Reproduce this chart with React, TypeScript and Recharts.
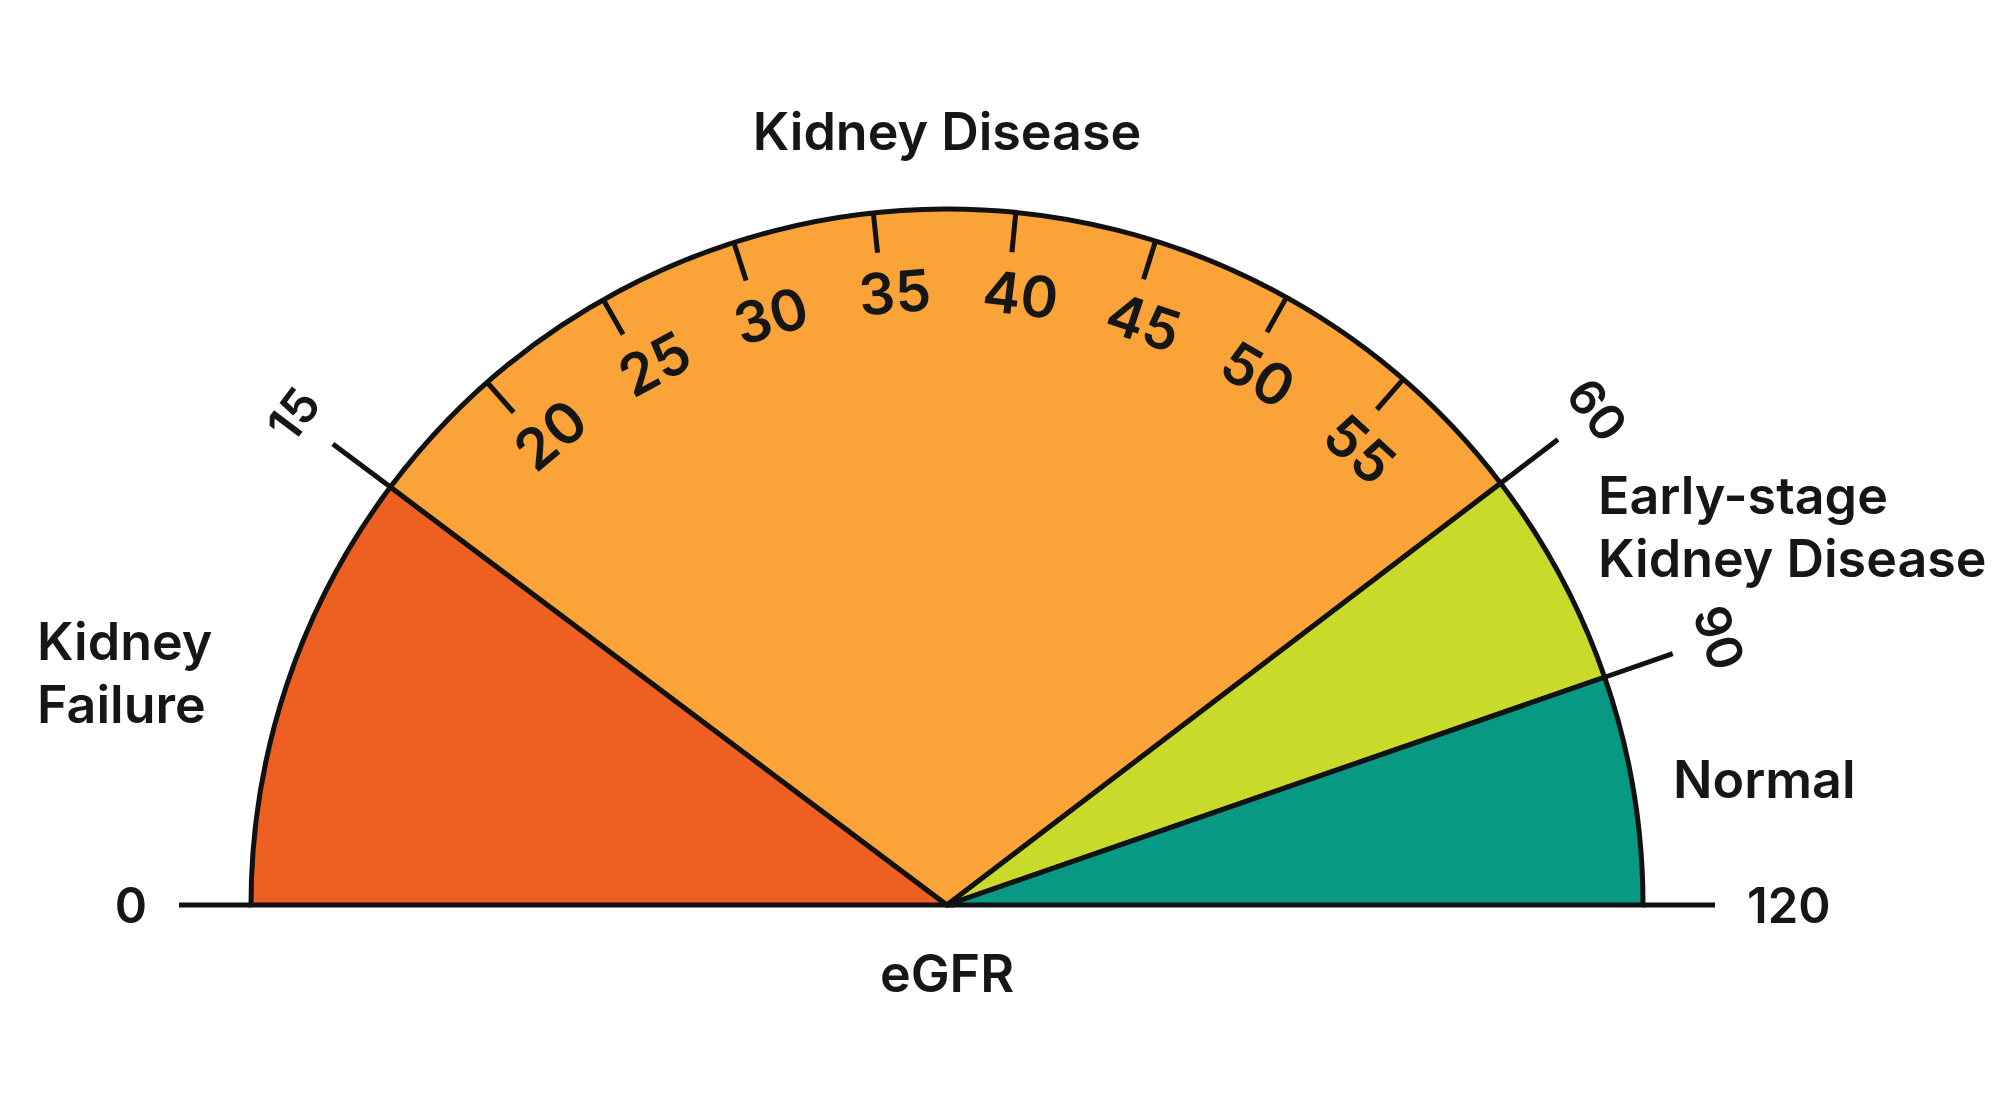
import { PieChart, Pie, Cell } from "recharts";

// eGFR stages of the dial
const stages = ["Kidney Failure", "Kidney Disease", "Early-stage Kidney Disease", "Normal"];
const stageBounds = [0, 15, 60, 90, 120];
// how much of the half dial each stage takes in the drawing (degrees, not to scale)
const stageArc = [36.9, 105.8, 18.2, 19.1];
const stageColors = ["#EE5F22", "#F9A338", "#C9DA2A", "#079983"];
// minor ticks inside the Kidney Disease band
const diseaseTicks = [20, 25, 30, 35, 40, 45, 50, 55];

const stageData = stages.map((name, i) => ({
  name,
  from: stageBounds[i],
  to: stageBounds[i + 1],
  value: stageArc[i],
}));

const tickEdges = [stageBounds[1], ...diseaseTicks, stageBounds[2]];
const tickData = tickEdges.slice(1).map((to, i) => ({
  from: tickEdges[i],
  to,
  value: to - tickEdges[i],
}));

const CX = 947;
const CY = 905;
const R = 696;
const FONT = "Inter, 'Noto Sans', sans-serif";
const INK = "#161616";
const RAD = Math.PI / 180;

const polar = (cx: number, cy: number, r: number, a: number) => ({
  x: cx + r * Math.cos(-a * RAD),
  y: cy + r * Math.sin(-a * RAD),
});

// where the stage names sit, relative to the dial centre
const nameLayout = [
  { x: -910, y: -245, anchor: "start", lines: ["Kidney", "Failure"] },
  { x: 0, y: -755, anchor: "middle", lines: ["Kidney Disease"] },
  { x: 651, y: -391, anchor: "start", lines: ["Early-stage", "Kidney Disease"] },
  { x: 726, y: -107, anchor: "start", lines: ["Normal"] },
];

function boundary(cx: number, cy: number, r: number, angle: number, value: number, flat: number, key: string) {
  const p1 = polar(cx, cy, r, angle);
  const p2 = polar(cx, cy, r + 72, angle);
  let text;
  if (flat) {
    const p = polar(cx, cy, r + 104, angle);
    text = (
      <text x={p.x} y={p.y} textAnchor={flat < 0 ? "end" : "start"} dominantBaseline="central"
        fontSize={49} fontFamily={FONT} fontWeight={600} fill={INK}>
        {value}
      </text>
    );
  } else {
    const p = polar(cx, cy, r + 121, angle);
    text = (
      <text x={p.x} y={p.y} textAnchor="middle" dominantBaseline="central"
        transform={`rotate(${90 - angle} ${p.x} ${p.y})`}
        fontSize={49} fontFamily={FONT} fontWeight={600} fill={INK}>
        {value}
      </text>
    );
  }
  return (
    <g key={key}>
      <line x1={p1.x} y1={p1.y} x2={p2.x} y2={p2.y} stroke="#111" strokeWidth={5} />
      {text}
    </g>
  );
}

function StageLabel(props: any) {
  const { cx, cy, outerRadius, startAngle, endAngle, index, payload } = props;
  const lay = nameLayout[index];
  const last = index === stageData.length - 1;
  const parts = [];
  if (index === 0) parts.push(boundary(cx, cy, outerRadius, startAngle, payload.from, -1, "s"));
  parts.push(boundary(cx, cy, outerRadius, endAngle, payload.to, last ? 1 : 0, "e"));
  return (
    <g>
      {parts}
      <text x={cx + lay.x} y={cy + lay.y} textAnchor={lay.anchor as any}
        fontSize={52} fontFamily={FONT} fontWeight={600} fill={INK}>
        {lay.lines.map((l, k) => (
          <tspan key={k} x={cx + lay.x} dy={k === 0 ? 0 : 63}>{l}</tspan>
        ))}
      </text>
      {index === 0 && (
        <text x={cx} y={cy + 87} textAnchor="middle" fontSize={52} fontFamily={FONT}
          fontWeight={600} fill={INK}>eGFR</text>
      )}
    </g>
  );
}

function TickLabel(props: any) {
  const { cx, cy, outerRadius, endAngle, index, payload } = props;
  if (index >= tickData.length - 1) return <g />;
  const p1 = polar(cx, cy, outerRadius, endAngle);
  const p2 = polar(cx, cy, outerRadius - 40, endAngle);
  // numbers sit just below and a touch clockwise of their tick
  const a = endAngle - 1.2;
  const t = polar(cx, cy, outerRadius - 81, a);
  return (
    <g>
      <line x1={p1.x} y1={p1.y} x2={p2.x} y2={p2.y} stroke="#111" strokeWidth={5} />
      <text x={t.x} y={t.y} textAnchor="middle" dominantBaseline="central"
        transform={`rotate(${90 - a} ${t.x} ${t.y})`}
        fontSize={57} fontFamily={FONT} fontWeight={600} fill={INK}>
        {payload.to}
      </text>
    </g>
  );
}

export default function App() {
  const tickStart = 180 - stageArc[0];
  const tickEnd = tickStart - stageArc[1];
  return (
    <div style={{ position: "absolute", left: 0, top: 0, width: 2000, height: 1111, background: "#fff" }}>
      <PieChart width={2000} height={1111} margin={{ top: 0, right: 0, bottom: 0, left: 0 }}>
        <Pie
          data={stageData}
          dataKey="value"
          cx={CX}
          cy={CY}
          innerRadius={0}
          outerRadius={R}
          startAngle={180}
          endAngle={0}
          stroke="#111"
          strokeWidth={5}
          label={StageLabel}
          labelLine={false}
          isAnimationActive={false}
        >
          {stageData.map((d, i) => (
            <Cell key={d.name} fill={stageColors[i]} />
          ))}
        </Pie>
        <Pie
          data={tickData}
          dataKey="value"
          cx={CX}
          cy={CY}
          innerRadius={R - 40}
          outerRadius={R}
          startAngle={tickStart}
          endAngle={tickEnd}
          fill="none"
          stroke="none"
          label={TickLabel}
          labelLine={false}
          isAnimationActive={false}
        />
      </PieChart>
    </div>
  );
}
